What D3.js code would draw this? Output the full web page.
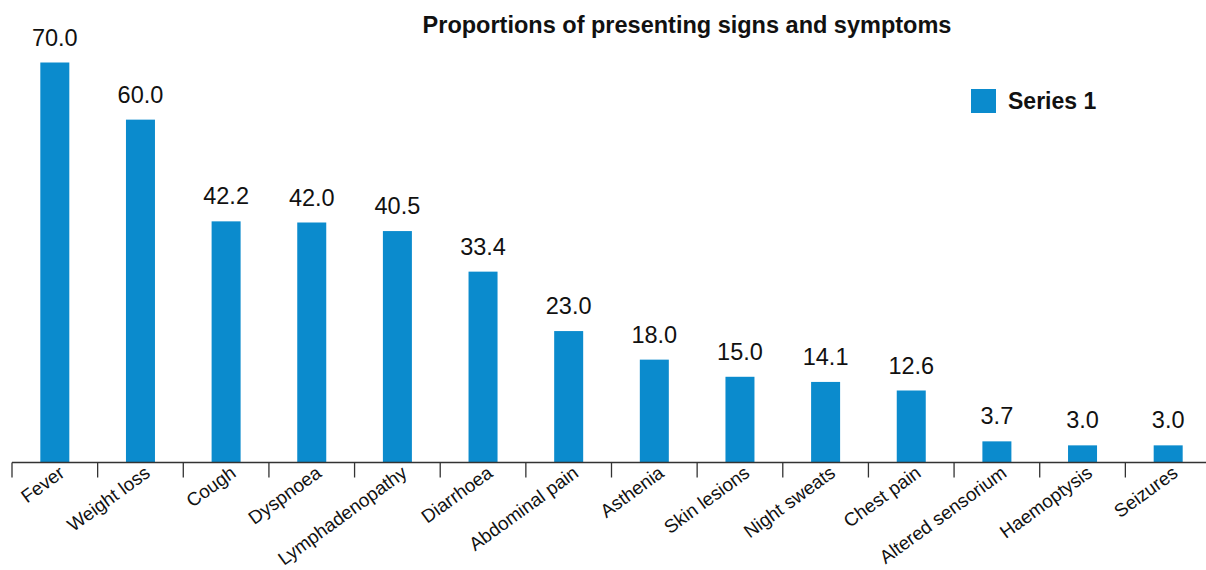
<!DOCTYPE html>
<html>
<head>
<meta charset="utf-8">
<script src="https://cdn.jsdelivr.net/npm/d3@7"></script>
<style>
  html, body { margin: 0; padding: 0; background: #fff; }
  svg { display: block; font-family: "Liberation Sans", Arial, sans-serif; }
</style>
</head>
<body>
<svg id="chart" width="1206" height="570"></svg>
<script>
const categories = ["Fever", "Weight loss", "Cough", "Dyspnoea", "Lymphadenopathy", "Diarrhoea",
  "Abdominal pain", "Asthenia", "Skin lesions", "Night sweats", "Chest pain",
  "Altered sensorium", "Haemoptysis", "Seizures"];
const values = [70.0, 60.0, 42.2, 42.0, 40.5, 33.4, 23.0, 18.0, 15.0, 14.1, 12.6, 3.7, 3.0, 3.0];
const seriesName = "Series 1";
const title = "Proportions of presenting signs and symptoms";

const svg = d3.select("#chart");
const barColor = "#0b8bcd";
const baseY = 462.5;

const x = d3.scaleBand().domain(categories).range([12, 1211]).paddingInner(0).paddingOuter(0);
const y = d3.scaleLinear().domain([0, 70]).range([baseY, 62.5]);
const barW = 29;

// bars
svg.append("g").selectAll("rect").data(values).join("rect")
  .attr("x", (d, i) => x(categories[i]) + x.bandwidth() / 2 - barW / 2)
  .attr("y", d => y(d))
  .attr("width", barW)
  .attr("height", d => baseY - y(d))
  .attr("fill", barColor);

// value labels
svg.append("g").selectAll("text").data(values).join("text")
  .attr("x", (d, i) => x(categories[i]) + x.bandwidth() / 2)
  .attr("y", d => y(d) - 17)
  .attr("text-anchor", "middle")
  .attr("font-size", 23.5)
  .attr("fill", "#111")
  .text(d => d.toFixed(1));

// axis
const axis = svg.append("g");
axis.append("line")
  .attr("x1", x.range()[0]).attr("x2", x.range()[1])
  .attr("y1", baseY).attr("y2", baseY)
  .attr("stroke", "#333").attr("stroke-width", 1.3);
axis.selectAll("line.tick").data(categories).join("line")
  .attr("class", "tick")
  .attr("x1", d => x(d)).attr("x2", d => x(d))
  .attr("y1", baseY).attr("y2", baseY + 15)
  .attr("stroke", "#333").attr("stroke-width", 1.3);
axis.selectAll("text").data(categories).join("text")
  .attr("transform", d => `translate(${x(d) + x.bandwidth() / 2 + 11},${baseY + 13}) rotate(-36)`)
  .attr("text-anchor", "end")
  .attr("font-size", 18.8)
  .attr("fill", "#111")
  .text(d => d);

// title
svg.append("text")
  .attr("x", 687).attr("y", 33)
  .attr("text-anchor", "middle")
  .attr("font-size", 23.5)
  .attr("font-weight", "bold")
  .attr("fill", "#111")
  .text(title);

// legend
const lg = svg.append("g");
lg.append("rect").attr("x", 971).attr("y", 89).attr("width", 25).attr("height", 24).attr("fill", barColor);
lg.append("text").attr("x", 1008).attr("y", 109)
  .attr("font-size", 23).attr("font-weight", "bold").attr("fill", "#111")
  .text(seriesName);
</script>
</body>
</html>
